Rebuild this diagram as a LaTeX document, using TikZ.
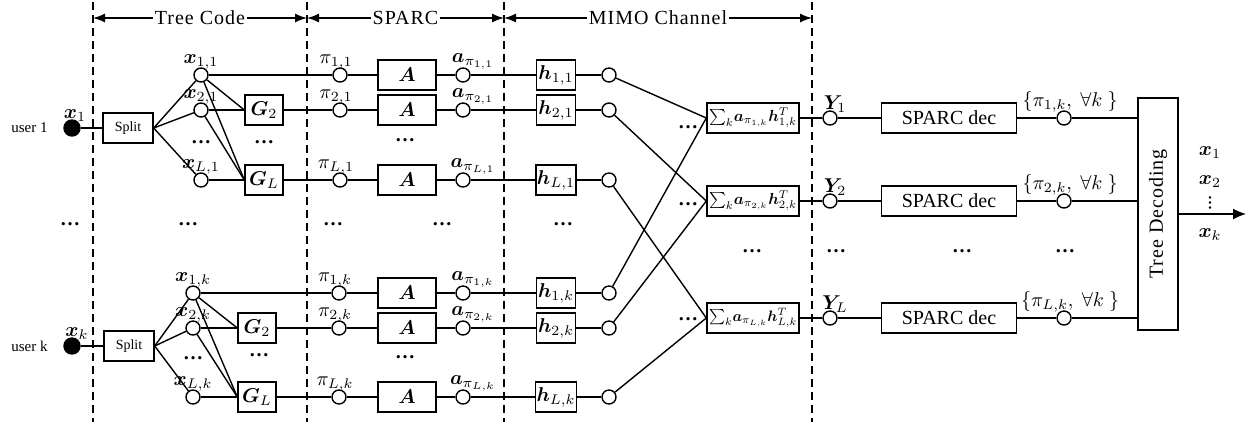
\documentclass[tikz,border=0pt]{standalone}
\usepackage{amsmath}
\usepackage{bm}
\usepackage{fontspec}
\setmainfont{Liberation Serif}
\usepackage{graphicx}
\usetikzlibrary{positioning}
\usetikzlibrary{arrows.meta}

\begin{document}
\begin{tikzpicture}[x=0.5pt,y=-0.5pt,line width=0.7pt,
  ring/.style={circle,draw,fill=white,minimum size=7pt,inner sep=0pt},
  src/.style={circle,draw,fill=black,minimum size=8pt,inner sep=0pt},
  blk/.style={rectangle,draw,fill=white,minimum height=15pt,inner sep=0.5pt},
  gblk/.style={blk,minimum width=19pt},
  ablk/.style={blk,minimum width=29pt},
  hblk/.style={blk,minimum width=19.5pt},
  sblk/.style={blk,minimum width=46pt,inner sep=0pt},
  lbl/.style={inner sep=0pt,yshift=-1.5pt},
  ell/.style={inner sep=0pt,font=\bfseries},
  divider/.style={dash pattern=on 4pt off 2.5pt},
  secarrow/.style={{Latex[length=6pt,width=4.5pt]}-{Latex[length=6pt,width=4.5pt]}},
  ttl/.style={fill=white,inner sep=1pt,font=\addfontfeature{LetterSpace=5}}]
\useasboundingbox (0,0) rectangle (1252,425);
  \coordinate(d1t) at (93,2);
  \coordinate(d1b) at (93,422);
  \coordinate(d2t) at (307,2);
  \coordinate(d2b) at (307,422);
  \coordinate(d3t) at (504,2);
  \coordinate(d3b) at (504,422);
  \coordinate(d4t) at (812,2);
  \coordinate(d4b) at (812,422);
  \coordinate(t1) at (93,18);
  \coordinate(t2) at (307,18);
  \coordinate(t3) at (504,18);
  \coordinate(t4) at (812,18);
\draw[divider](d1t)--(d1b);
\draw[divider](d2t)--(d2b);
\draw[divider](d3t)--(d3b);
\draw[divider](d4t)--(d4b);
\draw[secarrow](t1)--(t2) node(tc)[midway,ttl]{Tree Code};
\draw[secarrow](t2)--(t3) node(sc)[midway,ttl]{SPARC};
\draw[secarrow](t3)--(t4) node(mc)[midway,ttl]{MIMO Channel};

  \node(u1)[src,label={[lbl,xshift=1.5pt]above:$\bm{x}_1$}] at (72,128){};
  \node(user1)[left=7.5pt of u1,inner sep=0pt,font=\fontsize{7.5}{9}\selectfont]{user 1};
  \node(sp1)[blk,minimum width=25pt,font=\fontsize{7}{8}\selectfont] at (128,128){Split};
  \node(x11)[ring,label={[lbl]above:$\bm{x}_{1,1}$}] at (201,75){};
  \node(x21)[ring,label={[lbl]above:$\bm{x}_{2,1}$}] at (201,110){};
  \node(xd1)[ell] at (201,142){…};
  \node(xL1)[ring,label={[lbl]above:$\bm{x}_{L,1}$}] at (201,180){};
  \node(G21)[gblk] at (264,110){$\bm{G}_2$};
  \node(Gd1)[ell] at (264,142){…};
  \node(GL1)[gblk] at (264,180){$\bm{G}_L$};
  \node(p11)[ring,label={[lbl,xshift=-2pt]above:$\pi_{1,1}$}] at (340,75){};
  \node(p21)[ring,label={[lbl,xshift=-2pt]above:$\pi_{2,1}$}] at (340,110){};
  \node(pL1)[ring,label={[lbl,xshift=-2pt]above:$\pi_{L,1}$}] at (340,180){};
  \node(A11)[ablk] at (407,75){$\bm{A}$};
  \node(A21)[ablk] at (407,110){$\bm{A}$};
  \node(Ad1)[ell] at (405,140){…};
  \node(AL1)[ablk] at (407,180){$\bm{A}$};
  \node(a11)[ring,label={[lbl,xshift=5pt]above:$\bm{a}_{\pi_{1,1}}$}] at (463,75){};
  \node(a21)[ring,label={[lbl,xshift=5pt]above:$\bm{a}_{\pi_{2,1}}$}] at (463,110){};
  \node(aL1)[ring,label={[lbl,xshift=5pt]above:$\bm{a}_{\pi_{L,1}}$}] at (463,180){};
  \node(h11)[hblk] at (556,75){$\bm{h}_{1,1}$};
  \node(h21)[hblk] at (556,110){$\bm{h}_{2,1}$};
  \node(hL1)[hblk] at (556,180){$\bm{h}_{L,1}$};
  \node(c11)[ring] at (609,75){};
  \node(c21)[ring] at (609,110){};
  \node(cL1)[ring] at (609,180){};

  \node(md1)[ell] at (70,224){…};
  \node(md2)[ell] at (188,224){…};
  \node(md3)[ell] at (333,224){…};
  \node(md4)[ell] at (442,224){…};
  \node(md5)[ell] at (563,224){…};

  \node(uk)[src,label={[lbl,xshift=2.5pt]above:$\bm{x}_k$}] at (72,346){};
  \node(userk)[left=7.5pt of uk,inner sep=0pt,font=\fontsize{7.5}{9}\selectfont]{user k};
  \node(spk)[blk,minimum width=25pt,font=\fontsize{7}{8}\selectfont] at (129,346){Split};
  \node(x1k)[ring,label={[lbl]above:$\bm{x}_{1,k}$}] at (193,293){};
  \node(x2k)[ring,label={[lbl]above:$\bm{x}_{2,k}$}] at (193,328){};
  \node(xdk)[ell] at (193,358){…};
  \node(xLk)[ring,label={[lbl]above:$\bm{x}_{L,k}$}] at (193,397){};
  \node(G2k)[gblk] at (257,328){$\bm{G}_2$};
  \node(Gdk)[ell] at (259,355){…};
  \node(GLk)[gblk] at (257,397){$\bm{G}_L$};
  \node(p1k)[ring,label={[lbl,xshift=-2pt]above:$\pi_{1,k}$}] at (339,293){};
  \node(p2k)[ring,label={[lbl,xshift=-2pt]above:$\pi_{2,k}$}] at (339,328){};
  \node(pLk)[ring,label={[lbl,xshift=-2pt]above:$\pi_{L,k}$}] at (339,397){};
  \node(A1k)[ablk] at (407,293){$\bm{A}$};
  \node(A2k)[ablk] at (407,328){$\bm{A}$};
  \node(Adk)[ell] at (405,357){…};
  \node(ALk)[ablk] at (407,397){$\bm{A}$};
  \node(a1k)[ring,label={[lbl,xshift=5pt]above:$\bm{a}_{\pi_{1,k}}$}] at (463,293){};
  \node(a2k)[ring,label={[lbl,xshift=5pt]above:$\bm{a}_{\pi_{2,k}}$}] at (463,328){};
  \node(aLk)[ring,label={[lbl,xshift=5pt]above:$\bm{a}_{\pi_{L,k}}$}] at (463,397){};
  \node(h1k)[hblk] at (556,293){$\bm{h}_{1,k}$};
  \node(h2k)[hblk] at (556,328){$\bm{h}_{2,k}$};
  \node(hLk)[hblk] at (556,397){$\bm{h}_{L,k}$};
  \node(c1k)[ring] at (609,293){};
  \node(c2k)[ring] at (609,328){};
  \node(cLk)[ring] at (609,397){};

  \node(S1)[sblk] at (753,118){\resizebox{44pt}{!}{$\sum_k\!\bm{a}_{\pi_{1,k}}\bm{h}_{1,k}^T$}};
  \node(S2)[sblk] at (753,201){\resizebox{44pt}{!}{$\sum_k\!\bm{a}_{\pi_{2,k}}\bm{h}_{2,k}^T$}};
  \node(SL)[sblk] at (753,318){\resizebox{44pt}{!}{$\sum_k\!\bm{a}_{\pi_{L,k}}\bm{h}_{L,k}^T$}};
  \node(Sd1)[ell] at (688,127){…};
  \node(Sd2)[ell] at (688,204){…};
  \node(SdL)[ell] at (688,319){…};
  \node(Y1)[ring,label={[lbl,xshift=2.5pt]above:$\bm{Y}_1$}] at (830,118){};
  \node(Y2)[ring,label={[lbl,xshift=2.5pt]above:$\bm{Y}_2$}] at (830,201){};
  \node(YL)[ring,label={[lbl,xshift=2.5pt]above:$\bm{Y}_L$}] at (830,318){};
  \node(D1)[blk,minimum width=67.5pt] at (949,118){SPARC dec};
  \node(D2)[blk,minimum width=67.5pt] at (949,201){SPARC dec};
  \node(DL)[blk,minimum width=67.5pt] at (949,318){SPARC dec};
  \node(q1)[ring,label={[lbl,xshift=3pt]above:$\{\pi_{1,k},\ \forall k\ \}$}] at (1064,118){};
  \node(q2)[ring,label={[lbl,xshift=3pt]above:$\{\pi_{2,k},\ \forall k\ \}$}] at (1064,201){};
  \node(qL)[ring,label={[lbl,xshift=3pt]above:$\{\pi_{L,k},\ \forall k\ \}$}] at (1064,318){};
  \node(rd1)[ell] at (752,251){…};
  \node(rd2)[ell] at (836,251){…};
  \node(rd3)[ell] at (962,251){…};
  \node(rd4)[ell] at (1065,251){…};
  \node(TD)[draw,minimum width=20pt,minimum height=116pt,inner sep=0pt,font=\addfontfeature{LetterSpace=5}] at (1158,214){\rotatebox{90}{Tree Decoding}};
  \node(o1) at (1210,153){$\bm{x}_1$};
  \node(o2) at (1210,182){$\bm{x}_2$};
  \node(od)[ell,font=\bfseries\fontsize{7.5}{8}\selectfont] at (1210,203){\rotatebox{90}{…}};
  \node(ok) at (1210,235){$\bm{x}_k$};
  \coordinate(out) at (1246,214);

\draw(u1)--(sp1);
\draw(sp1.east)--(x11);
\draw(sp1.east)--(x21);
\draw(sp1.east)--(xL1);
\draw(x11)--(G21.west);
\draw(x21)--(G21.west);
\draw(x11)--(GL1.west);
\draw(x21)--(GL1.west);
\draw(xL1)--(GL1.west);
\draw(x11)--(p11)--(A11)--(a11)--(h11)--(c11);
\draw(G21)--(p21)--(A21)--(a21)--(h21)--(c21);
\draw(GL1)--(pL1)--(AL1)--(aL1)--(hL1)--(cL1);
\draw(uk)--(spk);
\draw(spk.east)--(x1k);
\draw(spk.east)--(x2k);
\draw(spk.east)--(xLk);
\draw(x1k)--(G2k.west);
\draw(x2k)--(G2k.west);
\draw(x1k)--(GLk.west);
\draw(x2k)--(GLk.west);
\draw(xLk)--(GLk.west);
\draw(x1k)--(p1k)--(A1k)--(a1k)--(h1k)--(c1k);
\draw(G2k)--(p2k)--(A2k)--(a2k)--(h2k)--(c2k);
\draw(GLk)--(pLk)--(ALk)--(aLk)--(hLk)--(cLk);
\draw(c11)--(S1.west);
\draw(c1k)--(S1.west);
\draw(c21)--(S2.west);
\draw(c2k)--(S2.west);
\draw(cL1)--(SL.west);
\draw(cLk)--(SL.west);
\draw(S1)--(Y1)--(D1)--(q1)--(q1-|TD.west);
\draw(S2)--(Y2)--(D2)--(q2)--(q2-|TD.west);
\draw(SL)--(YL)--(DL)--(qL)--(qL-|TD.west);
\draw[-{Latex[length=6.5pt,width=5.5pt]}](TD)--(out);
\end{tikzpicture}
\end{document}
